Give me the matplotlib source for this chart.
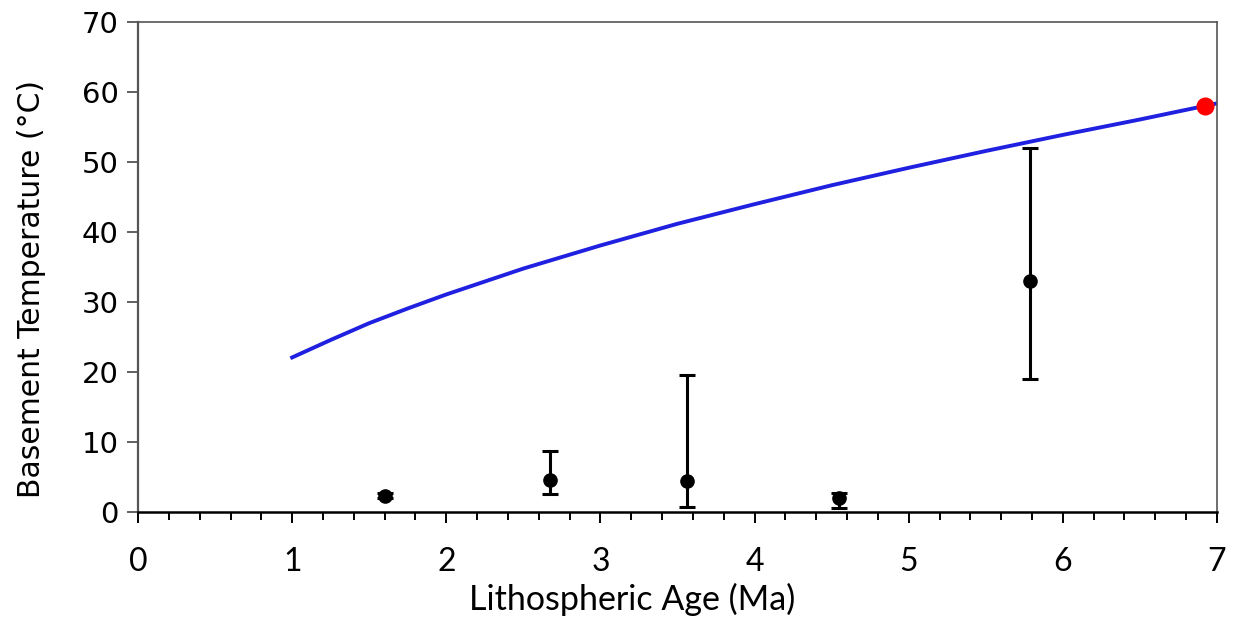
import numpy as np
import matplotlib.pyplot as plt
from matplotlib.ticker import MultipleLocator

# model curve
curve_age = [1.0, 1.1, 1.25, 1.5, 1.75, 2.0, 2.5, 3.0, 3.5, 4.0, 4.5, 5.0, 5.5, 6.0, 6.5, 7.0]
curve_temp = [22.1, 23.1, 24.6, 27.0, 29.1, 31.1, 34.8, 38.1, 41.2, 44.0, 46.7, 49.2, 51.6, 53.9, 56.1, 58.4]

# measured points with error bars
obs_age = [1.60, 2.67, 3.56, 4.55, 5.79]
obs_temp = [2.3, 4.6, 4.4, 2.0, 33.0]
obs_low = [2.0, 2.6, 0.7, 0.6, 19.0]
obs_high = [2.8, 8.7, 19.6, 2.7, 52.0]

# red point
red_age = [6.92]
red_temp = [58.0]

fig = plt.figure(figsize=(12.38, 6.17), dpi=100)
ax = fig.add_axes([0.1115, 0.170, 0.8715, 0.794])

ax.plot(curve_age, curve_temp, color='#2020e0', lw=2.8, zorder=2,
        solid_joinstyle='round')

yerr = [np.array(obs_temp) - np.array(obs_low), np.array(obs_high) - np.array(obs_temp)]
ax.errorbar(obs_age, obs_temp, yerr=yerr, fmt='o', color='black', ms=9.5,
            elinewidth=2.2, capsize=5.5, capthick=2.2, zorder=3)
ax.plot(red_age, red_temp, 'o', color='#ff0000', ms=12, zorder=4)

ax.set_xlim(0, 7)
ax.set_ylim(0, 70)
ax.xaxis.set_major_locator(MultipleLocator(1))
ax.xaxis.set_minor_locator(MultipleLocator(0.2))
ax.yaxis.set_major_locator(MultipleLocator(10))

for s in ['top', 'right']:
    ax.spines[s].set_color('#555555')
    ax.spines[s].set_linewidth(1.2)
ax.spines['left'].set_color('#555555')
ax.spines['left'].set_linewidth(1.6)
ax.spines['bottom'].set_color('black')
ax.spines['bottom'].set_linewidth(1.8)

ax.tick_params(axis='x', which='major', length=8, width=1.4, direction='out', pad=17)
ax.tick_params(axis='x', which='minor', length=6, width=1.4, direction='out')
ax.tick_params(axis='y', which='major', length=8, width=1.3, direction='out', pad=6,
               color='#555555')

xfont = ['Lato', 'DejaVu Sans']
for lab in ax.get_xticklabels():
    lab.set_family(xfont)
    lab.set_fontsize(23)
for lab in ax.get_yticklabels():
    lab.set_family('DejaVu Sans')
    lab.set_fontsize(21)

ax.set_xlabel('Lithospheric Age (Ma)', family=xfont, fontsize=24.5, labelpad=1)
ax.xaxis.set_label_coords(0.458, -0.145)
ax.set_ylabel('Basement Temperature (\u00b0C)', family='DejaVu Sans', fontsize=21.5)
ax.yaxis.set_label_coords(-0.085, 0.455)

fig.savefig('out.png', dpi=100)
